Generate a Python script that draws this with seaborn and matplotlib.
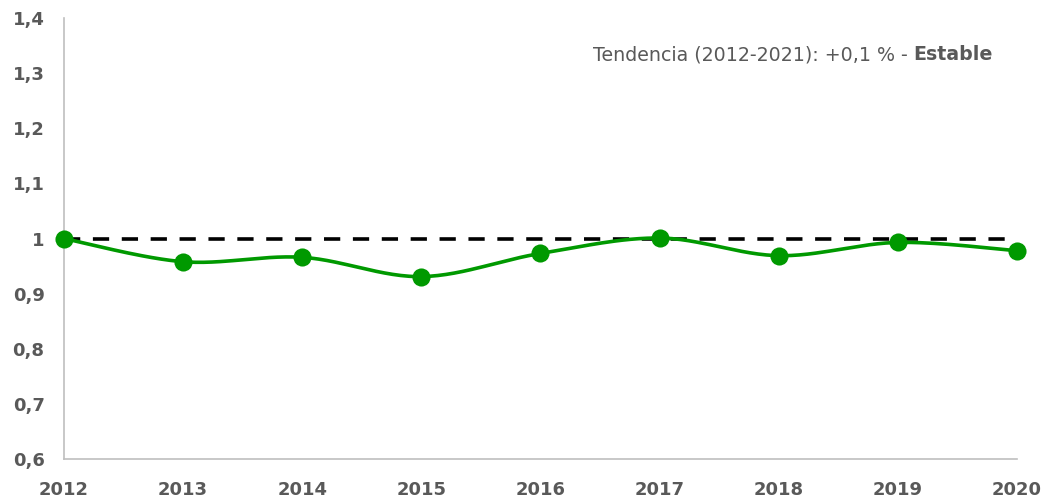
import numpy as np
import pandas as pd
import matplotlib
matplotlib.use("Agg")
import matplotlib.pyplot as plt
import seaborn as sns
from matplotlib.ticker import FuncFormatter, MultipleLocator

# data
years = [2012, 2013, 2014, 2015, 2016, 2017, 2018, 2019, 2020]
index_values = [1.000, 0.958, 0.966, 0.931, 0.973, 1.001, 0.969, 0.993, 0.978]
reference_level = 1.0
trend_text = "Tendencia (2012-2021): +0,1 % - "
trend_label = "Estable"

GREEN = "#009900"
GREY_TXT = "#595959"
GREY_AX = "#BFBFBF"


def catmull_rom(xs, ys, n=30):
    # smooth curve through the points, like the spreadsheet "smoothed line"
    xs = np.asarray(xs, float)
    ys = np.asarray(ys, float)
    px = np.concatenate([[xs[0]], xs, [xs[-1]]])
    py = np.concatenate([[ys[0]], ys, [ys[-1]]])
    out_x, out_y = [], []
    t = np.linspace(0, 1, n)
    for i in range(1, len(px) - 2):
        for arr, out in ((px, out_x), (py, out_y)):
            p0, p1, p2, p3 = arr[i - 1], arr[i], arr[i + 1], arr[i + 2]
            m1 = (p2 - p0) / 2
            m2 = (p3 - p1) / 2
            h00 = 2 * t**3 - 3 * t**2 + 1
            h10 = t**3 - 2 * t**2 + t
            h01 = -2 * t**3 + 3 * t**2
            h11 = t**3 - t**2
            out.extend(h00 * p1 + h10 * m1 + h01 * p2 + h11 * m2)
    return np.array(out_x), np.array(out_y)


sns.set_theme(style="white")
plt.rcParams["font.family"] = ["DejaVu Sans"]

fig = plt.figure(figsize=(10.49, 5.01), dpi=100)
ax = fig.add_axes([0.061, 0.0838, 0.9085, 0.88])

df = pd.DataFrame({"year": years, "value": index_values})
sx, sy = catmull_rom(df["year"], df["value"])
smooth = pd.DataFrame({"x": sx, "y": sy})

ax.axhline(reference_level, color="black", lw=2.6, ls=(0, (4.5, 3.5)), zorder=2)
sns.lineplot(data=smooth, x="x", y="y", ax=ax, color=GREEN, lw=2.6,
             sort=False, zorder=3)
sns.scatterplot(data=df, x="year", y="value", ax=ax, color=GREEN, s=170,
                edgecolor=GREEN, linewidth=0, zorder=4, clip_on=False)

ax.set_xlim(2012, 2020)
ax.set_ylim(0.6, 1.4)
ax.set_xticks(years)
ax.yaxis.set_major_locator(MultipleLocator(0.1))
ax.yaxis.set_major_formatter(FuncFormatter(
    lambda v, p: (f"{v:.1f}".replace(".", ",") if abs(v - round(v)) > 1e-9 else f"{int(round(v))}")))
ax.set_xlabel("")
ax.set_ylabel("")

for s in ["top", "right"]:
    ax.spines[s].set_visible(False)
for s in ["left", "bottom"]:
    ax.spines[s].set_color(GREY_AX)
    ax.spines[s].set_linewidth(1.2)

ax.tick_params(axis="x", direction="in", length=5, color=GREY_AX, width=1.2,
               labelsize=13, labelcolor=GREY_TXT, pad=16)
ax.tick_params(axis="y", direction="in", length=5, color=GREY_AX, width=1.2,
               labelsize=13, labelcolor=GREY_TXT, pad=14)
for lab in ax.get_xticklabels() + ax.get_yticklabels():
    lab.set_fontweight("bold")

t1 = ax.text(0.0, 0.0, trend_text, fontsize=13.7, color=GREY_TXT,
             transform=ax.transAxes, va="center")
t2 = ax.text(0.0, 0.0, trend_label, fontsize=13.7, color=GREY_TXT,
             fontweight="bold", transform=ax.transAxes, va="center")
fig.canvas.draw()
r = fig.canvas.get_renderer()
w1 = t1.get_window_extent(r).width
w2 = t2.get_window_extent(r).width
right_px = 993
y_px = 501 - 55
t1.set_transform(None)
t2.set_transform(None)
t1.set_position((right_px - w1 - w2, y_px))
t2.set_position((right_px - w2, y_px))

fig.savefig("out.png", dpi=100)
